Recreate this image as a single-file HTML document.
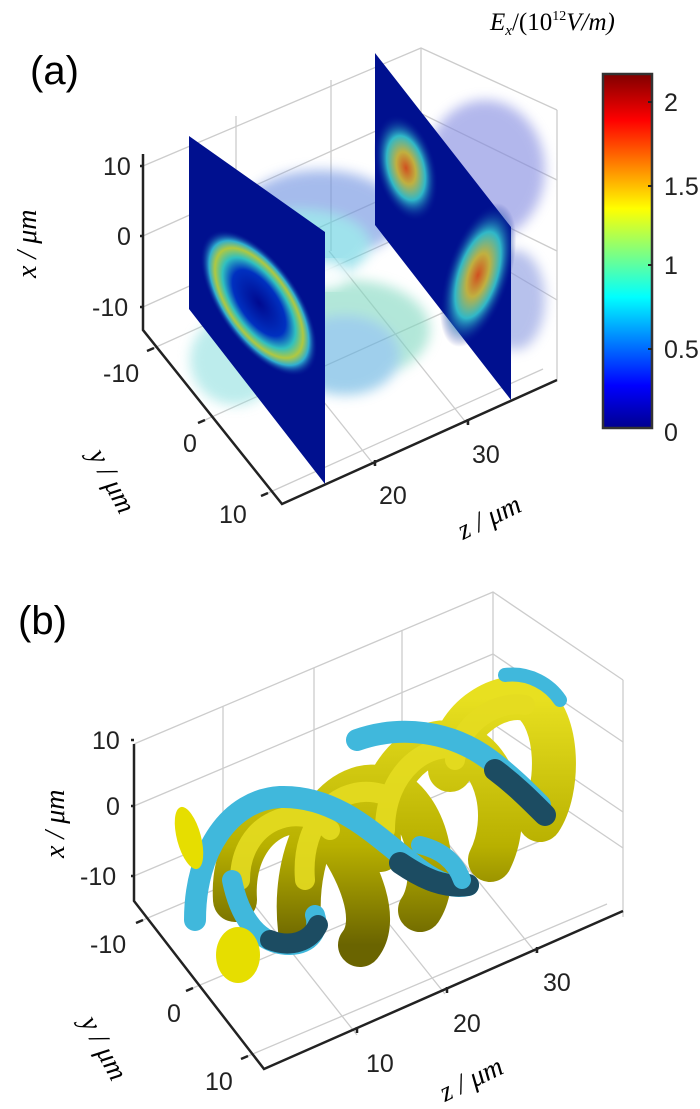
<!DOCTYPE html>
<html><head><meta charset="utf-8"><style>
html,body{margin:0;background:#fff;overflow:hidden;width:700px;height:1109px}
svg{display:block;font-family:"Liberation Sans",sans-serif}
.it{font-family:"Liberation Serif",serif;font-style:italic}
</style></head><body>
<svg width="700" height="1109" viewBox="0 0 700 1109" xmlns="http://www.w3.org/2000/svg">
<defs>
<linearGradient id="jet" x1="0" y1="1" x2="0" y2="0">
<stop offset="0" stop-color="#00008f"/><stop offset="0.12" stop-color="#0000ff"/>
<stop offset="0.37" stop-color="#00ffff"/><stop offset="0.62" stop-color="#ffff00"/>
<stop offset="0.87" stop-color="#ff0000"/><stop offset="1" stop-color="#800000"/>
</linearGradient>
<radialGradient id="ring" cx="0.5" cy="0.5" r="0.5">
<stop offset="0" stop-color="#000a90"/><stop offset="0.45" stop-color="#0030c0"/>
<stop offset="0.62" stop-color="#30c0c0"/><stop offset="0.75" stop-color="#b0c840"/>
<stop offset="0.85" stop-color="#30b0d0"/><stop offset="1" stop-color="#000a90" stop-opacity="0"/></radialGradient>
<radialGradient id="blob" cx="0.5" cy="0.5" r="0.5">
<stop offset="0" stop-color="#d05020"/><stop offset="0.3" stop-color="#c0b040"/>
<stop offset="0.6" stop-color="#30b8c8"/><stop offset="1" stop-color="#000a90" stop-opacity="0"/></radialGradient>
<filter id="bl"><feGaussianBlur stdDeviation="6"/></filter>
<linearGradient id="yel" x1="0" y1="0" x2="0" y2="1">
<stop offset="0" stop-color="#e8e020"/><stop offset="0.6" stop-color="#b8b000"/><stop offset="1" stop-color="#6a6400"/></linearGradient>
</defs>

<!-- Panel (a) -->
<text x="30" y="84" font-size="40">(a)</text>
<g stroke="#cccccc" stroke-width="1.3" fill="none">
<path d="M143 166 L421 48 L557 110 M143 236 L418 112 L557 180 M143 307 L418 183 L557 251"/>
<path d="M421 48 L421 224 M557 110 L557 380 M236 116 L236 292 M331 80 L331 251"/>
<path d="M154 348 L429 224 M205 420 L480 296 M268 493 L543 369"/>
<path d="M375 466 L236 292 M468 425 L329 251 M429 224 L557 300"/>
</g>
<g opacity="0.6" filter="url(#bl)">
<ellipse cx="320" cy="215" rx="80" ry="45" fill="#6a8ee0"/>
<ellipse cx="300" cy="245" rx="70" ry="35" fill="#60d0e0"/>
<ellipse cx="350" cy="330" rx="80" ry="50" fill="#80d8c0"/>
<ellipse cx="345" cy="355" rx="55" ry="40" fill="#60b0e0"/>
<ellipse cx="485" cy="170" rx="60" ry="70" fill="#8088e0"/>
<ellipse cx="515" cy="300" rx="30" ry="50" fill="#8898e0"/>
<ellipse cx="235" cy="360" rx="45" ry="45" fill="#90e0e0"/>
</g>
<ellipse cx="325" cy="275" rx="22" ry="14" fill="#fff" opacity="0.9" filter="url(#bl)"/>
<polygon points="189,136 325,232 325,484 189,309" fill="#00108f"/>
<ellipse cx="259" cy="303" rx="40" ry="85" fill="url(#ring)" transform="rotate(-35 259 303)"/>
<polygon points="375,53 511,227 511,400 375,225" fill="#00108f"/>
<ellipse cx="406" cy="168" rx="30" ry="55" fill="url(#blob)" transform="rotate(-15 406 168)"/>
<ellipse cx="478" cy="275" rx="32" ry="75" fill="url(#blob)" transform="rotate(18 478 275)"/>
<g stroke="#222" stroke-width="2.5" fill="none">
<path d="M143 154 L143 330 L282 504 L557 380"/>
<path d="M143 166 l-3 0 M143 236 l-3 0 M143 307 l-3 0 M154 348 l-7 3 M205 420 l-7 3 M268 493 l-7 3 M375 466 l0 -6 M468 425 l0 -6"/>
</g>
<g font-size="25" fill="#222">
<text x="103" y="175">10</text><text x="117" y="245">0</text><text x="92" y="316">-10</text>
<text x="103" y="382">-10</text><text x="183" y="452">0</text><text x="219" y="523">10</text>
<text x="379" y="504">20</text><text x="472" y="463">30</text>
</g>
<text class="it" font-size="28" transform="translate(36,278) rotate(-90)">x / μm</text>
<text class="it" font-size="28" transform="translate(88,455) rotate(62)">y / μm</text>
<text class="it" font-size="28" transform="translate(463,540) rotate(-26)">z / μm</text>
<text class="it" font-size="25" x="490" y="30">E<tspan font-size="15" dy="5">x</tspan><tspan dy="-5" font-style="normal">/(10</tspan><tspan font-size="14" dy="-10" font-style="normal">12</tspan><tspan dy="10">V/m)</tspan></text>
<rect x="603" y="74" width="49" height="354" fill="url(#jet)" stroke="#333" stroke-width="2.5"/>
<g stroke="#222" stroke-width="2"><path d="M648 102h4M648 186h4M648 265h4M648 349h4"/></g>
<g font-size="25" fill="#222">
<text x="664" y="111">2</text><text x="664" y="195">1.5</text><text x="664" y="274">1</text><text x="664" y="358">0.5</text><text x="664" y="441">0</text>
</g>

<!-- Panel (b) -->
<text x="18" y="634" font-size="40">(b)</text>
<g stroke="#cccccc" stroke-width="1.3" fill="none">
<path d="M134 744 L493 592 L623 680 M134 806 L493 654 L623 742 M134 876 L493 724 L623 812"/>
<path d="M493 592 L493 760 M623 680 L623 917 M223 706 L223 870 M314 668 L314 832 M402 630 L402 795"/>
<path d="M143 920 L502 768 M193 988 L552 836 M248 1056 L607 904"/>
<path d="M357 1035 L226 869 M445 994 L314 830 M536 953 L405 790 M493 760 L623 848"/>
</g>
<g fill="none" stroke-linecap="round">
<path d="M235 900 C 230 820, 300 790, 330 830 C 360 870, 380 920, 360 945 M300 930 C 290 840, 340 770, 390 790 C 430 810, 440 880, 420 910 M380 850 C 370 780, 420 730, 460 745 C 500 760, 510 820, 490 860 M450 770 C 450 720, 500 690, 530 700 C 560 720, 560 790, 540 820" stroke="url(#yel)" stroke-width="44"/>
<path d="M240 880 C 240 820, 300 800, 330 830 M305 880 C 300 820, 340 780, 385 795 M385 830 C 385 770, 430 740, 460 750 M455 760 C 460 720, 500 700, 525 705" stroke="#e4dc20" stroke-width="20" opacity="0.9"/>
<path d="M195 920 C 195 850, 230 800, 280 797 C 340 795, 380 840, 420 870 C 440 885, 455 888, 468 885" stroke="#40b8dc" stroke-width="22"/>
<path d="M400 863 C 425 880, 445 888, 468 885" stroke="#1c4c62" stroke-width="22"/>
<path d="M232 880 C 240 920, 260 945, 290 945 C 310 945, 320 930, 315 915" stroke="#40b8dc" stroke-width="20"/>
<path d="M270 940 C 290 948, 310 942, 318 925" stroke="#1c4c62" stroke-width="20"/>
<path d="M357 740 C 400 725, 450 730, 490 760 C 510 775, 525 790, 540 805" stroke="#40b8dc" stroke-width="22"/>
<path d="M495 770 C 515 785, 530 800, 545 815" stroke="#1c4c62" stroke-width="22"/>
<path d="M420 845 C 440 850, 455 860, 462 880" stroke="#40b8dc" stroke-width="18"/>
<path d="M505 675 C 530 672, 550 685, 560 700" stroke="#40b8dc" stroke-width="14"/>
</g>
<ellipse cx="238" cy="955" rx="22" ry="28" fill="#e6de00"/>
<ellipse cx="189" cy="838" rx="12" ry="32" fill="#e6de00" transform="rotate(-15 189 838)"/>
<g stroke="#222" stroke-width="2.5" fill="none">
<path d="M134 744 L134 901 L264 1069 L623 911"/>
<path d="M134 740 l-3 0 M134 806 l-3 0 M134 876 l-3 0 M143 920 l-7 3 M193 988 l-7 3 M248 1056 l-7 3 M357 1033 l0 -6 M447 993 l0 -6 M537 953 l0 -6"/>
</g>
<g font-size="25" fill="#222">
<text x="92" y="749">10</text><text x="106" y="815">0</text><text x="80" y="885">-10</text>
<text x="90" y="953">-10</text><text x="167" y="1022">0</text><text x="205" y="1090">10</text>
<text x="366" y="1072">10</text><text x="453" y="1032">20</text><text x="543" y="991">30</text>
</g>
<text class="it" font-size="28" transform="translate(64,858) rotate(-90)">x / μm</text>
<text class="it" font-size="28" transform="translate(80,1022) rotate(62)">y / μm</text>
<text class="it" font-size="28" transform="translate(445,1102) rotate(-26)">z / μm</text>
</svg>
</body></html>
